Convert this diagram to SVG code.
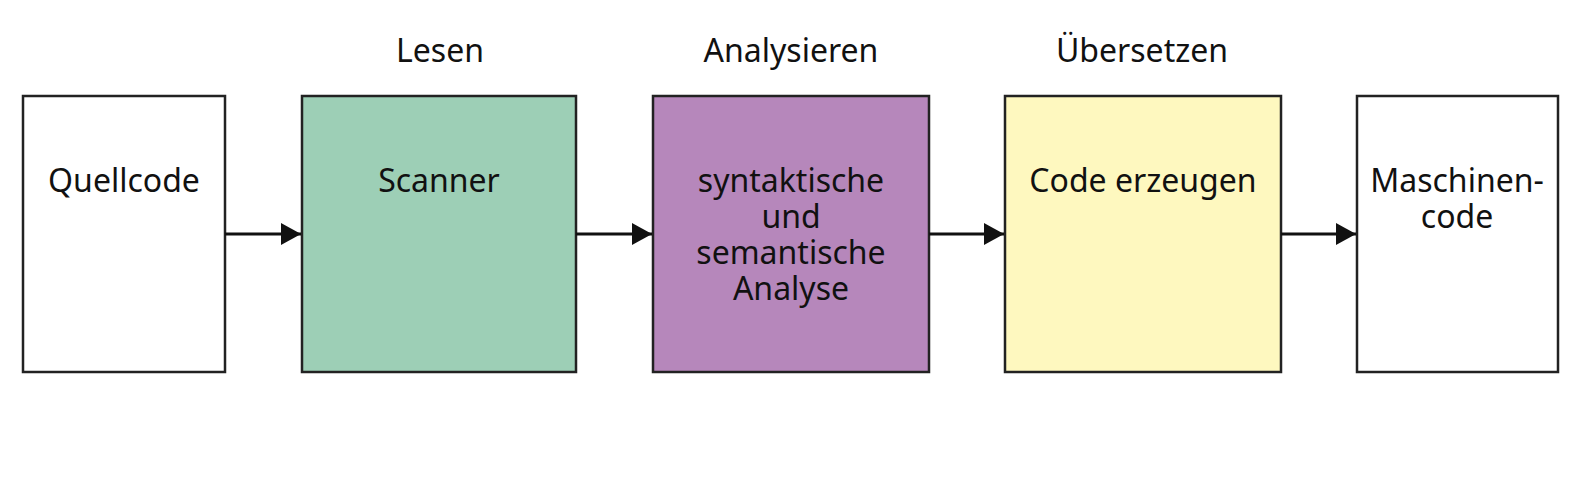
<svg xmlns="http://www.w3.org/2000/svg" width="1594" height="481" viewBox="0 0 1594 481">
<style>
.box{stroke:#222;stroke-width:2.5}
.t{font-family:"Noto Sans","DejaVu Sans",sans-serif;font-size:32px;fill:#111;text-anchor:middle}
.c{stroke:#111;stroke-width:3;fill:none}
</style>
<defs>
<marker id="ah" markerWidth="20" markerHeight="22" refX="20" refY="11" orient="auto" markerUnits="userSpaceOnUse">
<path d="M0,0 L20,11 L0,22 Z" fill="#111"/>
</marker>
</defs>
<rect width="1594" height="481" fill="#fff"/>
<g id="labels">
<text class="t" x="440" y="62">Lesen</text>
<text class="t" x="791" y="62">Analysieren</text>
<text class="t" x="1142" y="62">Übersetzen</text>
</g>
<g id="quellcode">
<rect class="box" x="23" y="96" width="202" height="276" fill="#fff"/>
<text class="t" x="124" y="192">Quellcode</text>
</g>
<g id="scanner">
<rect class="box" x="302" y="96" width="274" height="276" fill="#9dcfb6"/>
<text class="t" x="439" y="192">Scanner</text>
</g>
<g id="analyse">
<rect class="box" x="653" y="96" width="276" height="276" fill="#b687bb"/>
<text class="t" x="791" y="192"><tspan x="791" y="192">syntaktische</tspan><tspan x="791" y="228">und</tspan><tspan x="791" y="264">semantische</tspan><tspan x="791" y="300">Analyse</tspan></text>
</g>
<g id="erzeugen">
<rect class="box" x="1005" y="96" width="276" height="276" fill="#fef8bf"/>
<text class="t" x="1143" y="192">Code erzeugen</text>
</g>
<g id="maschinencode">
<rect class="box" x="1357" y="96" width="201" height="276" fill="#fff"/>
<text class="t" x="1457" y="192"><tspan x="1457" y="192">Maschinen-</tspan><tspan x="1457" y="228">code</tspan></text>
</g>
<g id="connectors">
<line class="c" x1="225" y1="234" x2="301" y2="234" marker-end="url(#ah)"/>
<line class="c" x1="576" y1="234" x2="652" y2="234" marker-end="url(#ah)"/>
<line class="c" x1="929" y1="234" x2="1004" y2="234" marker-end="url(#ah)"/>
<line class="c" x1="1281" y1="234" x2="1356" y2="234" marker-end="url(#ah)"/>
</g>
</svg>
